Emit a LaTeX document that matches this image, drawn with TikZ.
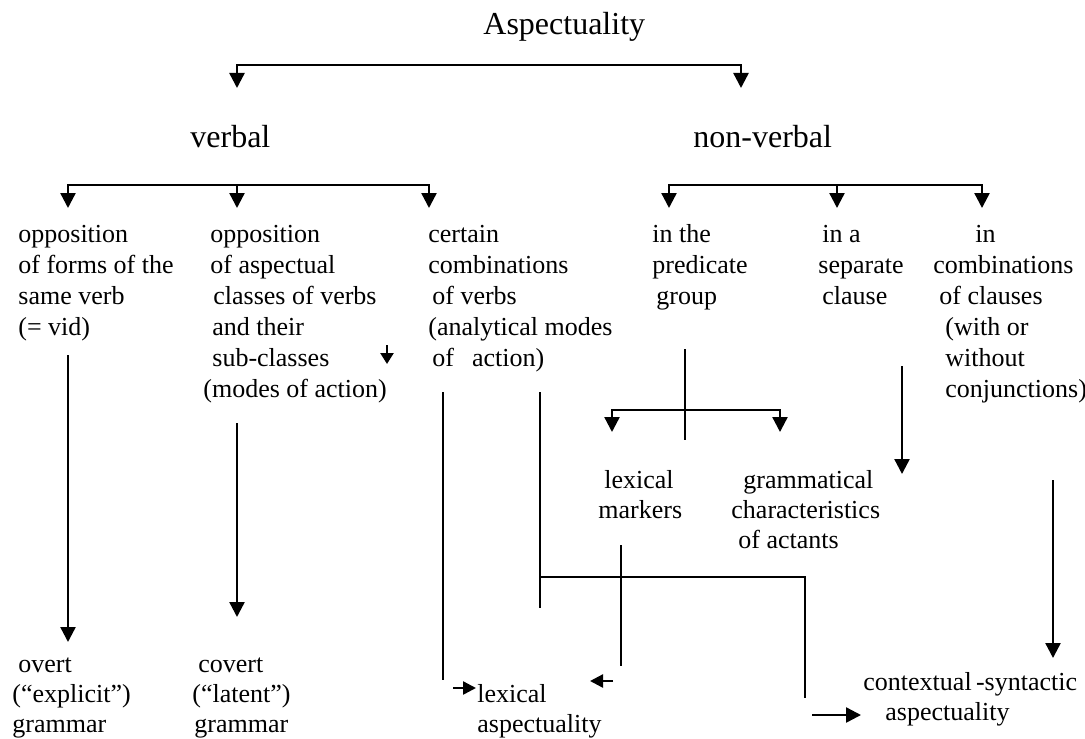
\documentclass[tikz,border=0pt]{standalone}
\usepackage{fontspec}
\setmainfont{Liberation Serif}
\usetikzlibrary{arrows.meta}
\begin{document}
\begin{tikzpicture}[x=0.5pt,y=-0.5pt,
  % multi-line labels are placed by the baseline of their last line
  txt/.style={inner sep=0pt, anchor=base west, align=left,
              font=\fontsize{13pt}{15.5pt}\selectfont},
  txtb/.style={txt, font=\fontsize{13pt}{15pt}\selectfont},
  head/.style={inner sep=0pt, anchor=base west, font=\fontsize{16pt}{19pt}\selectfont},
  link/.style={line width=1.2pt},
  thin link/.style={line width=1pt},
  tip/.tip={Triangle[width=7.5pt,length=7.5pt]},
  smalltip/.tip={Triangle[width=6.5pt,length=6.5pt]},
  arrow/.style={link,-tip},
  both/.style={link,tip-tip},
  small arrow/.style={link,-smalltip}]
\useasboundingbox (0,0) rectangle (1085,738);

% ---- headings
\node[head] (asp) at (483,35) {Aspectuality};
\node[head] (verbal) at (190,148) {verbal};
\node[head] (nonverbal) at (693,148) {non-verbal};

% ---- second level: verbal means
\node[txt] (forms) at (18,335) {opposition\\of forms of the\\same verb\\(= vid)};
\node[txt] (classes) at (210,397) {opposition\\of aspectual\\\hspace*{1.5pt}classes of verbs\\\hspace*{1pt}and their\\\hspace*{1pt}sub-classes\\\hspace*{-3.5pt}(modes of action)};
\node[txt] (combverbs) at (428,366) {certain\\combinations\\\hspace*{2pt}of verbs\\(analytical modes\\\hspace*{2pt}of\hspace{9pt}action)};

% ---- second level: non-verbal means
\node[txt] (predgroup) at (652,304) {in the\\predicate\\\hspace*{2pt}group};
\node[txt] (sepclause) at (818,304) {\hspace*{2pt}in a\\separate\\\hspace*{2pt}clause};
\node[txt] (combclauses) at (933,397) {\hspace*{21pt}in\\combinations\\\hspace*{3pt}of clauses\\\hspace*{6pt}(with or\\\hspace*{6pt}without\\\hspace*{6pt}conjunctions)};

% ---- third level
\node[txtb] (lexmark) at (598,518) {\hspace*{3pt}lexical\\markers};
\node[txtb] (gramchar) at (731,548) {\hspace*{6pt}grammatical\\characteristics\\\hspace*{3.5pt}of actants};

% ---- results
\node[txtb] (overt) at (12,732) {\hspace*{3pt}overt\\(“explicit”)\\grammar};
\node[txtb] (covert) at (192,732) {\hspace*{3pt}covert\\(“latent”)\\\hspace*{1pt}grammar};
\node[txtb] (lexasp) at (477,732) {lexical\\aspectuality};
\node[txtb] (ctxasp) at (863,720) {contextual\,-syntactic\\\hspace*{11pt}aspectuality};

% ---- branch points
\coordinate (a1) at (237,88);  \coordinate (a2) at (741,88);
\coordinate (b1) at (68,208);  \coordinate (b2) at (237,208); \coordinate (b3) at (429,208);
\coordinate (c1) at (669,208); \coordinate (c2) at (837,208); \coordinate (c3) at (982,208);

\draw[both] (a1) -- (a1 |- 0,65) -- (a2 |- 0,65) -- (a2);
\draw[both] (b1) -- (b1 |- 0,185) -- (b3 |- 0,185) -- (b3);
\draw[arrow] (b2 |- 0,185) -- (b2);
\draw[both] (c1) -- (c1 |- 0,185) -- (c3 |- 0,185) -- (c3);
\draw[arrow] (c2 |- 0,185) -- (c2);

% ---- verbal means to grammar
\draw[arrow] (68,355) -- (68,642);
\draw[arrow] (237,423) -- (237,617);
\draw[link,-{Triangle[width=6.5pt,length=5.5pt]}] (387,345) -- (387,364);

% ---- analytical modes of action
\draw[thin link] (443,392) -- (443,680);
\draw[small arrow] (453,688) -- (476,688);
\draw[thin link] (540,392) -- (540,608);
\draw[thin link] (540,577) -- (805,577) -- (805,698);
\draw[arrow] (812,715) -- (861,715);

% ---- predicate group
\coordinate (p1) at (612,432); \coordinate (p2) at (780,432);
\draw[thin link] (685,349) -- (685,440);
\draw[both] (p1) -- (p1 |- 0,410) -- (p2 |- 0,410) -- (p2);

% ---- lexical markers
\draw[thin link] (621,545) -- (621,666);
\draw[small arrow] (613,681) -- (590,681);

% ---- clauses
\draw[arrow] (902,366) -- (902,474);
\draw[arrow] (1053,480) -- (1053,658);
\end{tikzpicture}
\end{document}
